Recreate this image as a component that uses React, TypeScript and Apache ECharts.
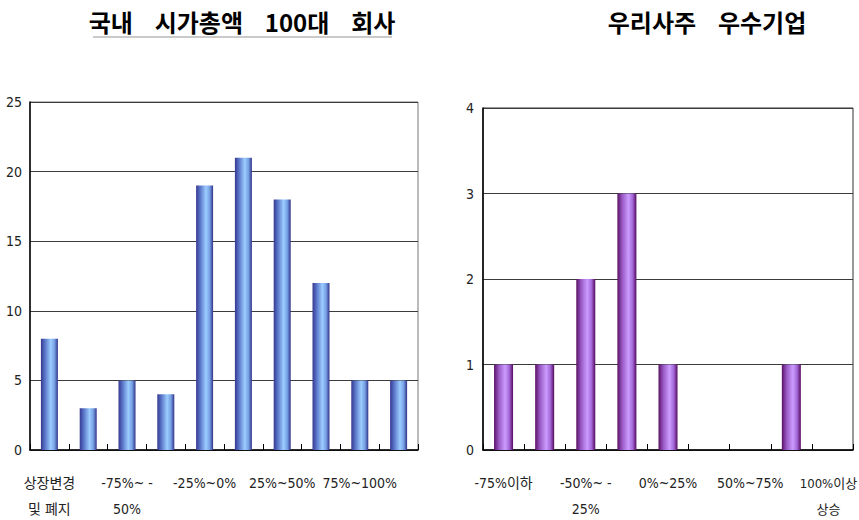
import React, { useEffect, useRef } from "react";
import * as echarts from "echarts";

// 국내 시가총액 100대 회사 — 주가 변동 구간별 기업 수
const marketCapCategories = [
  "상장변경\n및 폐지",
  "-75%이하",
  "-75%~ -\n50%",
  "-50%~-25%",
  "-25%~0%",
  "0%~25%",
  "25%~50%",
  "50%~75%",
  "75%~100%",
  "100%이상",
];
const marketCapCounts = [8, 3, 5, 4, 19, 21, 18, 12, 5, 5];
const marketCapTicks = { min: 0, max: 25, interval: 5 };

// 우리사주 우수기업 — 주가 변동 구간별 기업 수
const esopCategories = [
  "-75%이하",
  "-75%~-50%",
  "-50%~ -\n25%",
  "-25%~0%",
  "0%~25%",
  "25%~50%",
  "50%~75%",
  "75%~100%",
  "100%이상\n상승",
];
const esopCounts = [1, 1, 2, 3, 1, 0, 0, 1, 0];
const esopTicks = { min: 0, max: 4, interval: 1 };

const leftTitle = "국내    시가총액    100대    회사";
const rightTitle = "우리사주    우수기업";

const NARROW = "'Liberation Sans Narrow', 'DejaVu Sans Condensed', 'Noto Sans CJK KR', sans-serif";
const TITLE_FONT = "'Noto Sans CJK KR', 'Noto Sans', sans-serif";

const blueBar = new echarts.graphic.LinearGradient(0, 0, 1, 0, [
  { offset: 0, color: "#363890" },
  { offset: 0.22, color: "#5670c4" },
  { offset: 0.58, color: "#9ccdff" },
  { offset: 0.8, color: "#76a0e4" },
  { offset: 1, color: "#313388" },
]);

const purpleBar = new echarts.graphic.LinearGradient(0, 0, 1, 0, [
  { offset: 0, color: "#5a1064" },
  { offset: 0.25, color: "#9858c4" },
  { offset: 0.58, color: "#cc9cff" },
  { offset: 0.8, color: "#a468d8" },
  { offset: 1, color: "#540a5e" },
]);

// The last label of a chart sits against the page's right edge, so it is
// drawn a little smaller and nudged inwards.
function xAxisFor(gridIndex: number, categories: string[], tightLast: boolean) {
  const data = categories.map((c, i) =>
    tightLast && i === categories.length - 1
      ? {
          value: c,
          textStyle: {
            fontSize: 13,
            lineHeight: 26,
            fontFamily: NARROW,
            color: "#222",
            padding: [0, 8, 0, 0],
          },
        }
      : c
  );
  return {
    type: "category",
    gridIndex,
    data,
    boundaryGap: true,
    axisLine: { show: true, lineStyle: { color: "#000", width: 1.5 } },
    axisTick: {
      show: true,
      inside: true,
      length: 6,
      interval: 0,
      alignWithLabel: false,
      lineStyle: { color: "#000" },
    },
    axisLabel: {
      interval: 1,
      margin: 20,
      fontSize: 14,
      lineHeight: 26,
      fontFamily: NARROW,
      color: "#222",
    },
  };
}

function yAxisFor(gridIndex: number, t: { min: number; max: number; interval: number }, margin: number) {
  return {
    type: "value",
    gridIndex,
    min: t.min,
    max: t.max,
    interval: t.interval,
    axisLine: { show: true, lineStyle: { color: "#000", width: 1.5 } },
    axisTick: { show: false },
    splitLine: { show: true, lineStyle: { color: "#3c3c3c", width: 1 } },
    axisLabel: {
      margin,
      fontSize: 14,
      fontFamily: NARROW,
      color: "#222",
    },
  };
}

export default function App() {
  const ref = useRef<HTMLDivElement>(null);

  useEffect(() => {
    if (!ref.current) return;
    const chart = echarts.init(ref.current, undefined, { renderer: "svg" });

    chart.setOption({
      animation: false,
      backgroundColor: "#fff",
      grid: [
        {
          left: 30,
          top: 102,
          width: 388,
          height: 348,
          outerBoundsMode: "none",
          show: true,
          borderColor: "#777",
          borderWidth: 1,
        },
        {
          left: 483,
          top: 108,
          width: 370,
          height: 342,
          outerBoundsMode: "none",
          show: true,
          borderColor: "#333",
          borderWidth: 1,
        },
      ],
      xAxis: [xAxisFor(0, marketCapCategories, false), xAxisFor(1, esopCategories, true)],
      yAxis: [yAxisFor(0, marketCapTicks, 8), yAxisFor(1, esopTicks, 9)],
      series: [
        {
          type: "bar",
          xAxisIndex: 0,
          yAxisIndex: 0,
          data: marketCapCounts,
          barWidth: 17,
          itemStyle: { color: blueBar },
        },
        {
          type: "bar",
          xAxisIndex: 1,
          yAxisIndex: 1,
          data: esopCounts,
          barWidth: 19,
          itemStyle: { color: purpleBar },
        },
      ],
      graphic: [
        {
          type: "text",
          x: 242,
          y: 21,
          style: {
            text: leftTitle,
            fontSize: 24,
            fontWeight: "bold",
            fontFamily: TITLE_FONT,
            fill: "#000",
            align: "center",
            verticalAlign: "middle",
          },
        },
        {
          type: "line",
          shape: { x1: 93, y1: 37, x2: 392, y2: 37 },
          style: { stroke: "#b8b8b8", lineWidth: 1.5 },
        },
        {
          type: "text",
          x: 707,
          y: 21,
          style: {
            text: rightTitle,
            fontSize: 24,
            fontWeight: "bold",
            fontFamily: TITLE_FONT,
            fill: "#000",
            align: "center",
            verticalAlign: "middle",
          },
        },
      ],
    });

    return () => chart.dispose();
  }, []);

  return (
    <div
      ref={ref}
      style={{ position: "fixed", left: 0, top: 0, width: 859, height: 520, background: "#fff" }}
    />
  );
}
